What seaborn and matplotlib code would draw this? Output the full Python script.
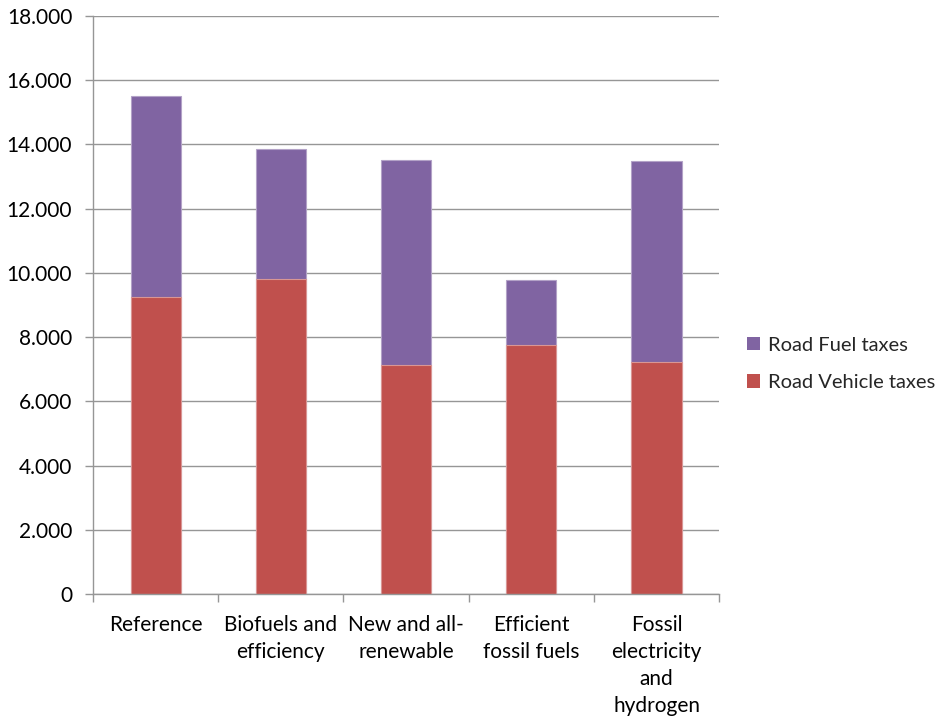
import numpy as np
import pandas as pd
import matplotlib
matplotlib.use("Agg")
import matplotlib.pyplot as plt
import seaborn as sns
from matplotlib.patches import Patch
from matplotlib.ticker import FuncFormatter, MultipleLocator, FixedLocator

scenarios = ["Reference", "Biofuels and\nefficiency", "New and all-\nrenewable",
             "Efficient\nfossil fuels", "Fossil\nelectricity\nand\nhydrogen"]
vehicle_taxes = [9250, 9820, 7140, 7760, 7230]
fuel_taxes = [6260, 4050, 6370, 2030, 6250]

purple = "#8064A2"
red = "#C0504D"

sns.set_theme(style="white")
plt.rcParams["font.family"] = ["Lato", "DejaVu Sans"]

df = pd.DataFrame({
    "scenario": scenarios,
    "vehicle": vehicle_taxes,
    "fuel": fuel_taxes,
})
df["total"] = df["vehicle"] + df["fuel"]

fig = plt.figure(figsize=(9.45, 7.19), dpi=100)
ax = fig.add_axes([0.0984, 0.1738, 0.6626, 0.8039])

sns.barplot(data=df, x="scenario", y="total", color=purple, width=0.4,
            saturation=1, edgecolor="#b3a2c7", linewidth=0.8, ax=ax)
sns.barplot(data=df, x="scenario", y="vehicle", color=red, width=0.4,
            saturation=1, edgecolor="#d99694", linewidth=0.8, ax=ax)

ax.set_ylim(0, 18000)
ax.set_xlim(-0.5, len(scenarios) - 0.5)
ax.yaxis.set_major_locator(MultipleLocator(2000))
ax.yaxis.set_major_formatter(FuncFormatter(
    lambda v, p: "0" if v == 0 else f"{int(v):,}".replace(",", ".")))
ax.yaxis.grid(True, color="#969696", linewidth=1.0)
ax.set_axisbelow(True)

ax.set_xlabel("")
ax.set_ylabel("")

for side in ["top", "right"]:
    ax.spines[side].set_visible(False)
for side in ["left", "bottom"]:
    ax.spines[side].set_color("#969696")
    ax.spines[side].set_linewidth(1.0)

ax.tick_params(axis="y", which="major", length=6, color="#969696", width=1.0,
               left=True, labelsize=15, labelcolor="black", pad=9)
ax.tick_params(axis="x", which="major", length=0, labelsize=15,
               labelcolor="black", pad=15)
ax.xaxis.set_minor_locator(FixedLocator(np.arange(-0.5, len(scenarios), 1.0)))
ax.tick_params(axis="x", which="minor", length=6, color="#969696", width=1.0,
               bottom=True)
for lbl in ax.get_xticklabels():
    lbl.set_horizontalalignment("center")
    lbl.set_verticalalignment("top")
    lbl.set_linespacing(1.43)

handles = [Patch(facecolor=purple, edgecolor="none", label="Road Fuel taxes"),
           Patch(facecolor=red, edgecolor="none", label="Road Vehicle taxes")]
fig.legend(handles=handles, loc="center left", bbox_to_anchor=(0.786, 0.494),
           frameon=False, fontsize=14.5, handlelength=0.65, handleheight=0.65,
           handletextpad=0.4, labelspacing=1.0, borderaxespad=0.0,
           borderpad=0.2)

fig.savefig("out.png", dpi=100, facecolor="white")
